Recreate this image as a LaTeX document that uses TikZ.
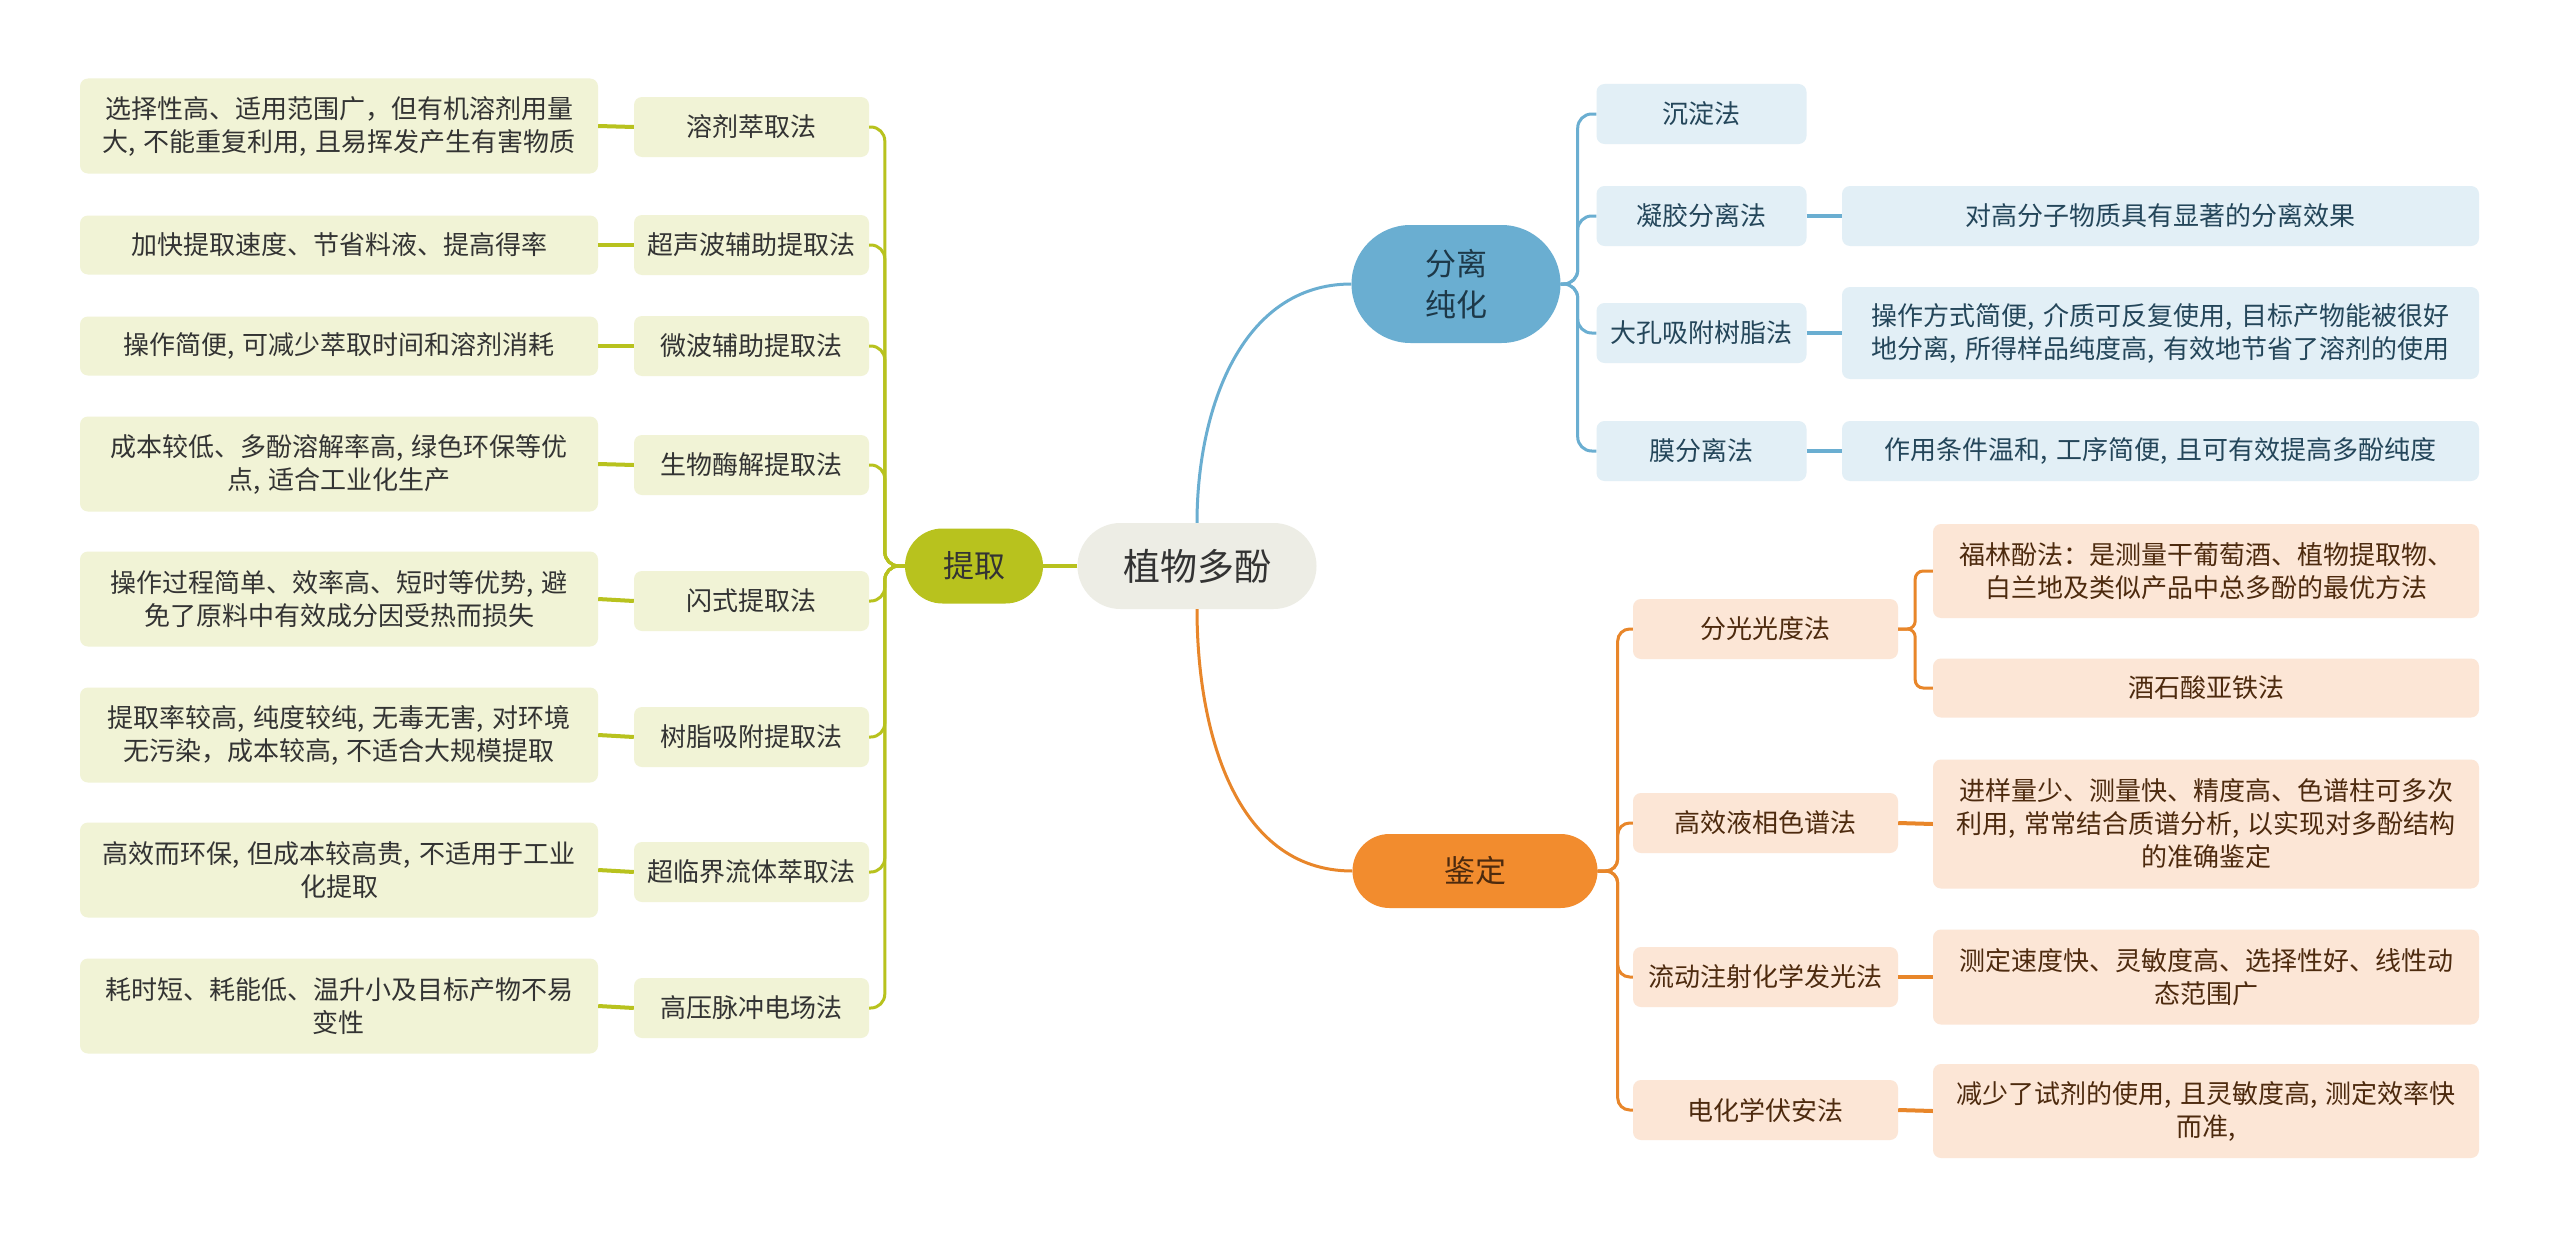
\documentclass[tikz,border=0pt]{standalone}
\usepackage{fontspec}
\setmainfont{Noto Sans CJK SC}
\usepackage{tikz}
\usetikzlibrary{shapes.misc}
\usepackage{xcolor}

\definecolor{greenmain}{RGB}{184,194,30}
\definecolor{greenpale}{RGB}{241,243,214}
\definecolor{greentext}{RGB}{51,51,51}
\definecolor{bluemain}{RGB}{106,174,209}
\definecolor{bluepale}{RGB}{226,239,246}
\definecolor{bluetext}{RGB}{36,70,90}
\definecolor{orangemain}{RGB}{242,140,46}
\definecolor{orangeedge}{RGB}{232,134,42}
\definecolor{orangepale}{RGB}{252,230,214}
\definecolor{orangetext}{RGB}{77,42,14}
\definecolor{corefill}{RGB}{237,237,229}

\begin{document}
\begin{tikzpicture}[
    x=1pt,
    y=1pt,
    font=\fontsize{26}{33}\selectfont,
    core/.style={rounded rectangle,fill=corefill,minimum width=239pt,minimum height=86pt,inner sep=0pt,font=\fontsize{37}{44}\selectfont,text=black!80},
    maingreen/.style={rounded rectangle,fill=greenmain,minimum width=138pt,minimum height=75pt,inner sep=0pt,font=\fontsize{31}{38}\selectfont,text=greentext},
    mainblue/.style={rounded rectangle,fill=bluemain,minimum width=209pt,minimum height=118pt,inner sep=0pt,align=center,font=\fontsize{31}{41}\selectfont,text=bluetext!80!black},
    mainorange/.style={rounded rectangle,fill=orangemain,minimum width=245pt,minimum height=74pt,inner sep=0pt,font=\fontsize{31}{38}\selectfont,text=orangetext},
    methodgreen/.style={fill=greenpale,rounded corners=8pt,minimum width=235pt,minimum height=60pt,inner sep=0pt,text=greentext},
    methodblue/.style={fill=bluepale,rounded corners=8pt,minimum width=210pt,minimum height=60pt,inner sep=0pt,text=bluetext},
    methodorange/.style={fill=orangepale,rounded corners=8pt,minimum width=265pt,minimum height=60pt,inner sep=0pt,text=orangetext},
    notegreen/.style={fill=greenpale,rounded corners=8pt,text width=494pt,inner xsep=12pt,inner ysep=0pt,align=center,text=greentext},
    noteblue/.style={fill=bluepale,rounded corners=8pt,text width=613pt,inner xsep=12pt,inner ysep=0pt,align=center,text=bluetext},
    noteorange/.style={fill=orangepale,rounded corners=8pt,text width=522pt,inner xsep=12pt,inner ysep=0pt,align=center,text=orangetext},
    greenline/.style={draw=greenmain,line width=3pt,rounded corners=14pt},
    greenlink/.style={draw=greenmain,line width=4pt},
    blueline/.style={draw=bluemain,line width=3pt,rounded corners=14pt},
    bluelink/.style={draw=bluemain,line width=4pt},
    orangeline/.style={draw=orangeedge,line width=3pt,rounded corners=12pt},
    orangelink/.style={draw=orangeedge,line width=4pt}
  ]
    \useasboundingbox[fill=white] (0,0) rectangle (2560,-1239);

    % centre and the three main topics
    \node[core] (core) at (1197,-566) {植物多酚};
    \node[maingreen] (tiqu) at (974,-566) {提取};
    \node[mainblue] (fenli) at (1456,-284) {分离\\纯化};
    \node[mainorange] (jianding) at (1475,-871) {鉴定};

    \draw[greenlink] (core.west) -- (tiqu.east);
    \draw[blueline] (core.north) to[out=90,in=180] (fenli.west);
    \draw[orangeline] (core.south) to[out=-90,in=180] (jianding.west);

    % extraction methods
    \foreach \name/\y/\txt in {
      gma/127/溶剂萃取法, gmb/245/超声波辅助提取法, gmc/346/微波辅助提取法,
      gmd/465/生物酶解提取法, gme/601/闪式提取法, gmf/737/树脂吸附提取法,
      gmg/872/超临界流体萃取法, gmh/1008/高压脉冲电场法} {
      \node[methodgreen] (\name) at (751.5,-\y) {\txt};
      \draw[greenline] (tiqu.west) -- ++(-20,0) |- (\name.east);
    }

    \foreach \name/\y/\h/\txt in {
      gna/126/95/{选择性高、适用范围广，但有机溶剂用量\\大, 不能重复利用, 且易挥发产生有害物质},
      gnb/245/59/{加快提取速度、节省料液、提高得率},
      gnc/346/59/{操作简便, 可减少萃取时间和溶剂消耗},
      gnd/464/95/{成本较低、多酚溶解率高, 绿色环保等优\\点, 适合工业化生产},
      gne/599/95/{操作过程简单、效率高、短时等优势, 避\\免了原料中有效成分因受热而损失},
      gnf/735/95/{提取率较高, 纯度较纯, 无毒无害, 对环境\\无污染，成本较高, 不适合大规模提取},
      gng/870/95/{高效而环保, 但成本较高贵, 不适用于工业\\化提取},
      gnh/1006/95/{耗时短、耗能低、温升小及目标产物不易\\变性}} {
      \node[notegreen,minimum height=\h pt] (\name) at (339,-\y) {\txt};
    }
    \foreach \m/\n in {gma/gna,gmb/gnb,gmc/gnc,gmd/gnd,gme/gne,gmf/gnf,gmg/gng,gmh/gnh} {
      \draw[greenlink] (\m.west) -- (\n.east);
    }

    % separation and purification
    \foreach \name/\y/\txt in {
      bma/114/沉淀法, bmb/216/凝胶分离法, bmc/333/大孔吸附树脂法, bmd/451/膜分离法} {
      \node[methodblue] (\name) at (1701.5,-\y) {\txt};
      \draw[blueline] (fenli.east) -- ++(17,0) |- (\name.west);
    }
    \node[noteblue,minimum height=60pt] (bnb) at (2160.5,-216) {对高分子物质具有显著的分离效果};
    \node[noteblue,minimum height=92pt] (bnc) at (2160.5,-333)
      {操作方式简便, 介质可反复使用, 目标产物能被很好\\地分离, 所得样品纯度高, 有效地节省了溶剂的使用};
    \node[noteblue,minimum height=60pt] (bnd) at (2160.5,-451) {作用条件温和, 工序简便, 且可有效提高多酚纯度};
    \foreach \m/\n in {bmb/bnb,bmc/bnc,bmd/bnd} {
      \draw[bluelink] (\m.east) -- (\n.west);
    }

    % identification
    \foreach \name/\y/\txt in {
      oma/629/分光光度法, omb/823/高效液相色谱法, omc/977/流动注射化学发光法, omd/1110/电化学伏安法} {
      \node[methodorange] (\name) at (1765.5,-\y) {\txt};
      \draw[orangeline] (jianding.east) -- ++(20,0) |- (\name.west);
    }
    \foreach \name/\y/\h/\txt in {
      ona/571/94/{福林酚法：是测量干葡萄酒、植物提取物、\\白兰地及类似产品中总多酚的最优方法},
      onb/688/59/{酒石酸亚铁法},
      onc/824/129/{进样量少、测量快、精度高、色谱柱可多次\\利用, 常常结合质谱分析, 以实现对多酚结构\\的准确鉴定},
      ond/977/95/{测定速度快、灵敏度高、选择性好、线性动\\态范围广},
      one/1111/94/{减少了试剂的使用, 且灵敏度高, 测定效率快\\而准,}} {
      \node[noteorange,minimum height=\h pt] (\name) at (2206,-\y) {\txt};
    }
    \draw[orangeline,rounded corners=8pt] (oma.east) -- ++(17,0) |- (ona.west);
    \draw[orangeline,rounded corners=8pt] (oma.east) -- ++(17,0) |- (onb.west);
    \foreach \m/\n in {omb/onc,omc/ond,omd/one} {
      \draw[orangelink] (\m.east) -- (\n.west);
    }
\end{tikzpicture}
\end{document}
